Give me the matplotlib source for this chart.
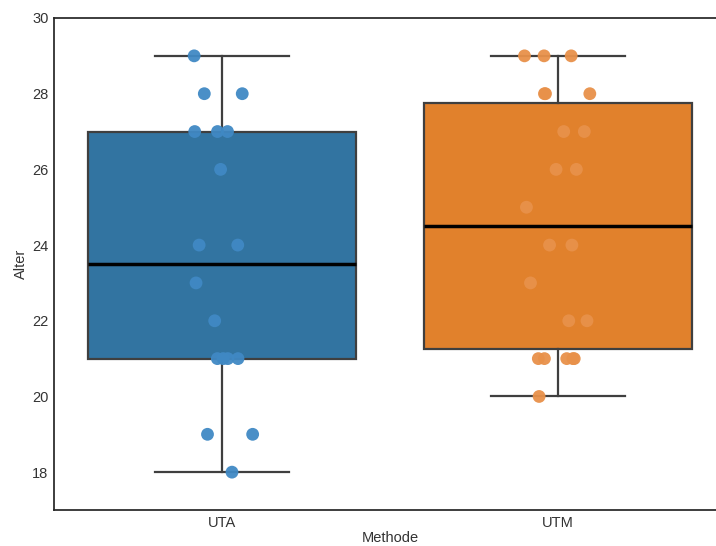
import numpy as np
import matplotlib
matplotlib.use("Agg")
import matplotlib.pyplot as plt

# Ages per method
methods = ["UTA", "UTM"]
alter_uta = [29, 28, 28, 27, 27, 27, 26, 24, 24, 23, 22, 21, 21, 21, 21, 19, 19, 18]
alter_utm = [29, 29, 29, 28, 28, 28, 27, 27, 26, 26, 25, 24, 24, 23, 22, 22,
             21, 21, 21, 21, 21, 20]
groups = [alter_uta, alter_utm]

box_colors = ["#3274a1", "#e1812c"]
point_colors = ["#4089c4", "#e8914a"]
edge = "#3f3f3f"

plt.rcParams["font.family"] = ["Liberation Sans", "DejaVu Sans"]
plt.rcParams["text.color"] = "#333333"
plt.rcParams["axes.labelcolor"] = "#333333"

fig = plt.figure(figsize=(7.16, 5.46), dpi=100)
ax = fig.add_axes([54 / 716, 1 - 510 / 546, 672 / 716, 492 / 546])

positions = np.arange(len(methods))
bp = ax.boxplot(groups, positions=positions, widths=0.8, patch_artist=True,
                showfliers=False, whis=1.5,
                medianprops=dict(color="black", linewidth=2.5),
                whiskerprops=dict(color=edge, linewidth=1.6),
                capprops=dict(color=edge, linewidth=1.6),
                boxprops=dict(edgecolor=edge, linewidth=1.6))
for patch, c in zip(bp["boxes"], box_colors):
    patch.set_facecolor(c)

rng = np.random.default_rng(3)
for i, (vals, c) in enumerate(zip(groups, point_colors)):
    xs = positions[i] + rng.uniform(-0.1, 0.1, size=len(vals))
    ax.scatter(xs, vals, s=85, color=c, edgecolors="none", alpha=0.95, zorder=5)

ax.set_xlim(-0.5, 1.5)
ax.set_ylim(17, 30)
ax.set_yticks([18, 20, 22, 24, 26, 28, 30])
ax.set_xticks(positions)
ax.set_xticklabels(methods)
ax.tick_params(axis="both", length=0, labelsize=10.5, colors="#333333")
ax.tick_params(axis="x", pad=4)
ax.tick_params(axis="y", pad=4)
ax.set_xlabel("Methode", fontsize=10.5, labelpad=1)
ax.set_ylabel("Alter", fontsize=10.5, labelpad=3)
for s in ax.spines.values():
    s.set_color("#262626")
    s.set_linewidth(1.25)

fig.savefig("out.png", dpi=100)
